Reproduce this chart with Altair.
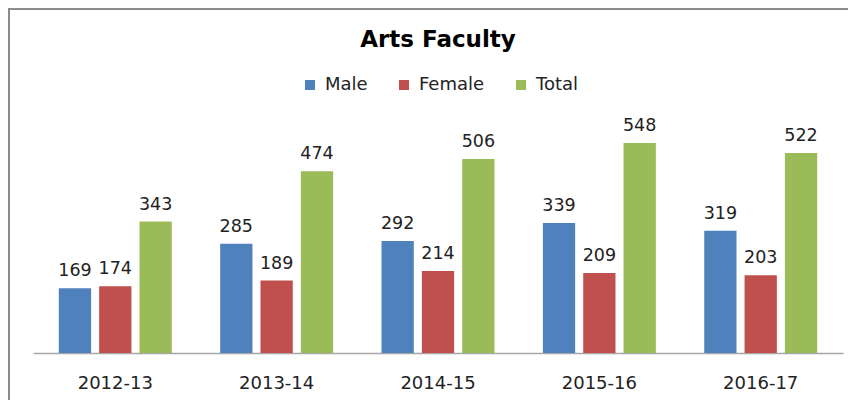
import altair as alt
import pandas as pd

years = ["2012-13", "2013-14", "2014-15", "2015-16", "2016-17"]
male = [169, 285, 292, 339, 319]
female = [174, 189, 214, 209, 203]
total = [343, 474, 506, 548, 522]
series = ["Male", "Female", "Total"]
colors = ["#4F81BD", "#C0504D", "#9BBB59"]

rows = []
for name, vals in zip(series, [male, female, total]):
    for yr, v in zip(years, vals):
        rows.append({"year": yr, "series": name, "value": v})
df = pd.DataFrame(rows)

FONT = "DejaVu Sans"
TXT = "#222222"

base = alt.Chart(df).encode(
    x=alt.X("year:N", sort=years, title=None,
            scale=alt.Scale(paddingInner=0.3, paddingOuter=0.16),
            axis=alt.Axis(labelAngle=0, ticks=False, domainColor="#a6a6a6",
                          domainWidth=1.5, labelFontSize=18, labelFont=FONT,
                          labelColor=TXT, labelPadding=21, grid=False)),
    xOffset=alt.XOffset("series:N", sort=series, scale=alt.Scale(paddingInner=0.2)),
    y=alt.Y("value:Q", scale=alt.Scale(domain=[0, 600]), axis=None),
)

bars = base.mark_bar().encode(
    color=alt.Color("series:N", sort=series,
                    scale=alt.Scale(domain=series, range=colors),
                    legend=alt.Legend(orient="none", legendX=268, legendY=-47,
                                      direction="horizontal", title=None,
                                      symbolType="square", symbolSize=100,
                                      symbolStrokeWidth=0,
                                      labelFontSize=18, labelFont=FONT,
                                      labelColor=TXT, columnPadding=27,
                                      labelOffset=6))
)

labels = base.mark_text(baseline="bottom", dy=-8, fontSize=17.5, font=FONT,
                        color=TXT).encode(text="value:Q")

frame_src = alt.Chart(pd.DataFrame({"k": [0]}))
left_line = frame_src.mark_rule(color="#8c8c8c", strokeWidth=2).encode(
    x=alt.value(-24), y=alt.value(-115), y2=alt.value(277))
top_line = frame_src.mark_rule(color="#8c8c8c", strokeWidth=2).encode(
    x=alt.value(-25), x2=alt.value(815), y=alt.value(-114))

chart = alt.layer(left_line, top_line, bars, labels).properties(
    width=810, height=230,
    title=alt.TitleParams("Arts Faculty", font=FONT, fontSize=23,
                          fontWeight="bold", anchor="middle", color="#000000",
                          offset=-45),
    padding={"left": 25, "top": 115, "right": 5, "bottom": 47},
    autosize=alt.AutoSizeParams(type="none"),
).configure_view(stroke=None)

chart.save("out.html", embed_options={"renderer": "svg", "actions": False})
